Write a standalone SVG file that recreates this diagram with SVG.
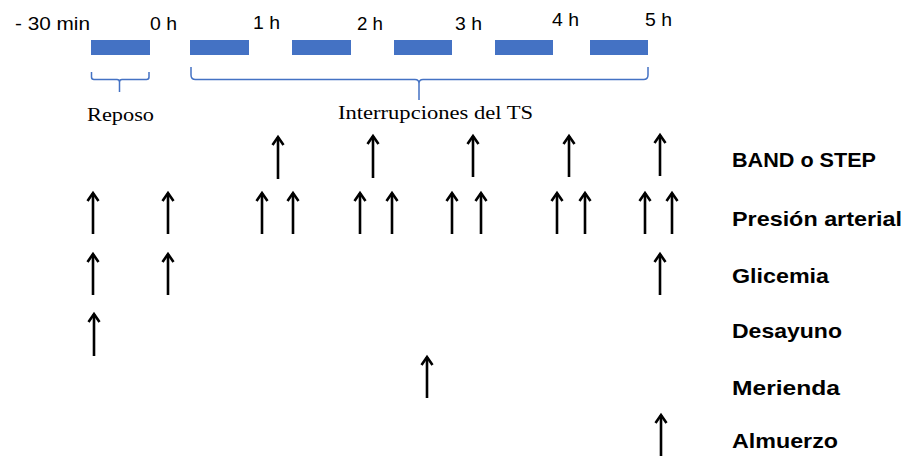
<svg xmlns="http://www.w3.org/2000/svg" width="909" height="459" viewBox="0 0 909 459">
<style>
.bg{fill:#ffffff}
.bar{fill:#4472C4}
.brace{fill:none;stroke:#4472C4;stroke-width:1.5}
.tl{font-family:"Liberation Sans","Open Sans",sans-serif;font-size:18px;fill:#000}
.sl{font-family:"Liberation Serif","DejaVu Serif",serif;font-size:19px;fill:#000}
.rl{font-family:"Liberation Sans","Open Sans",sans-serif;font-size:21px;font-weight:bold;fill:#000}
.arr{stroke:#000;stroke-width:2.6;fill:none;marker-end:url(#ah)}
</style>
<defs>
<marker id="ah" viewBox="-10 -8 13 16" refX="0" refY="0" markerWidth="13" markerHeight="16" markerUnits="userSpaceOnUse" orient="auto" overflow="visible">
<path d="M-8,-5.5 L0,0 L-8,5.5" fill="none" stroke="#000" stroke-width="2.6" stroke-linejoin="miter"/>
</marker>
</defs>
<rect class="bg" x="0" y="0" width="909" height="459"/>
<g id="timeline">
<rect class="bar" x="91" y="40" width="59" height="15"/>
<rect class="bar" x="190" y="40" width="59" height="15"/>
<rect class="bar" x="292" y="40" width="59" height="15"/>
<rect class="bar" x="394" y="40" width="58" height="15"/>
<rect class="bar" x="495" y="40" width="58" height="15"/>
<rect class="bar" x="590" y="40" width="58" height="15"/>
</g>
<g id="time-labels">
<text class="tl" x="15" y="30" textLength="75" lengthAdjust="spacingAndGlyphs">- 30 min</text>
<text class="tl" x="150" y="30" textLength="27" lengthAdjust="spacingAndGlyphs">0 h</text>
<text class="tl" x="253" y="29" textLength="27" lengthAdjust="spacingAndGlyphs">1 h</text>
<text class="tl" x="357" y="30" textLength="26" lengthAdjust="spacingAndGlyphs">2 h</text>
<text class="tl" x="455" y="30" textLength="27" lengthAdjust="spacingAndGlyphs">3 h</text>
<text class="tl" x="552" y="26" textLength="27" lengthAdjust="spacingAndGlyphs">4 h</text>
<text class="tl" x="645" y="26" textLength="27" lengthAdjust="spacingAndGlyphs">5 h</text>
</g>
<g id="reposo">
<path class="brace" d="M91.5,72 V77 Q91.5,79.5 94,79.5 H117 Q119.5,79.5 119.5,82 V92 M119.5,82 Q119.5,79.5 122,79.5 H146.5 Q149,79.5 149,77 V72"/>
<text class="sl" x="87" y="121" textLength="67" lengthAdjust="spacingAndGlyphs">Reposo</text>
</g>
<g id="interrupciones">
<path class="brace" d="M191,67 V75 Q191,79.5 195.5,79.5 H415 Q419,79.5 419,83.5 V100 M419,83.5 Q419,79.5 423,79.5 H643.5 Q648,79.5 648,75 V67"/>
<text class="sl" x="338" y="119" textLength="195" lengthAdjust="spacingAndGlyphs">Interrupciones del TS</text>
</g>
<g id="connectors">
<line class="arr" x1="278" y1="179" x2="278" y2="137"/>
<line class="arr" x1="373" y1="178" x2="373" y2="136"/>
<line class="arr" x1="473" y1="177" x2="473" y2="136"/>
<line class="arr" x1="569" y1="177" x2="569" y2="136"/>
<line class="arr" x1="660" y1="176" x2="660" y2="135"/>

<line class="arr" x1="93" y1="234" x2="93" y2="193"/>
<line class="arr" x1="168" y1="234" x2="168" y2="193"/>
<line class="arr" x1="262" y1="234" x2="262" y2="193"/>
<line class="arr" x1="293" y1="234" x2="293" y2="193"/>
<line class="arr" x1="360" y1="234" x2="360" y2="193"/>
<line class="arr" x1="392" y1="234" x2="392" y2="193"/>
<line class="arr" x1="452" y1="234" x2="452" y2="193"/>
<line class="arr" x1="481" y1="234" x2="481" y2="193"/>
<line class="arr" x1="557" y1="234" x2="557" y2="193"/>
<line class="arr" x1="585" y1="234" x2="585" y2="193"/>
<line class="arr" x1="645" y1="234" x2="645" y2="193"/>
<line class="arr" x1="672" y1="234" x2="672" y2="193"/>

<line class="arr" x1="93" y1="295" x2="93" y2="254"/>
<line class="arr" x1="168" y1="295" x2="168" y2="254"/>
<line class="arr" x1="660" y1="295" x2="660" y2="254"/>

<line class="arr" x1="94" y1="356" x2="94" y2="314"/>
<line class="arr" x1="427" y1="398" x2="427" y2="357"/>
<line class="arr" x1="661" y1="456" x2="661" y2="415"/>
</g>
<g id="label-band"><text class="rl" x="732" y="167" textLength="144" lengthAdjust="spacingAndGlyphs">BAND o STEP</text></g>
<g id="label-presion"><text class="rl" x="732" y="226" textLength="170" lengthAdjust="spacingAndGlyphs">Presión arterial</text></g>
<g id="label-glicemia"><text class="rl" x="732" y="283" textLength="97" lengthAdjust="spacingAndGlyphs">Glicemia</text></g>
<g id="label-desayuno"><text class="rl" x="732" y="338" textLength="110" lengthAdjust="spacingAndGlyphs">Desayuno</text></g>
<g id="label-merienda"><text class="rl" x="732" y="395" textLength="108" lengthAdjust="spacingAndGlyphs">Merienda</text></g>
<g id="label-almuerzo"><text class="rl" x="732" y="448" textLength="106" lengthAdjust="spacingAndGlyphs">Almuerzo</text></g>
</svg>
